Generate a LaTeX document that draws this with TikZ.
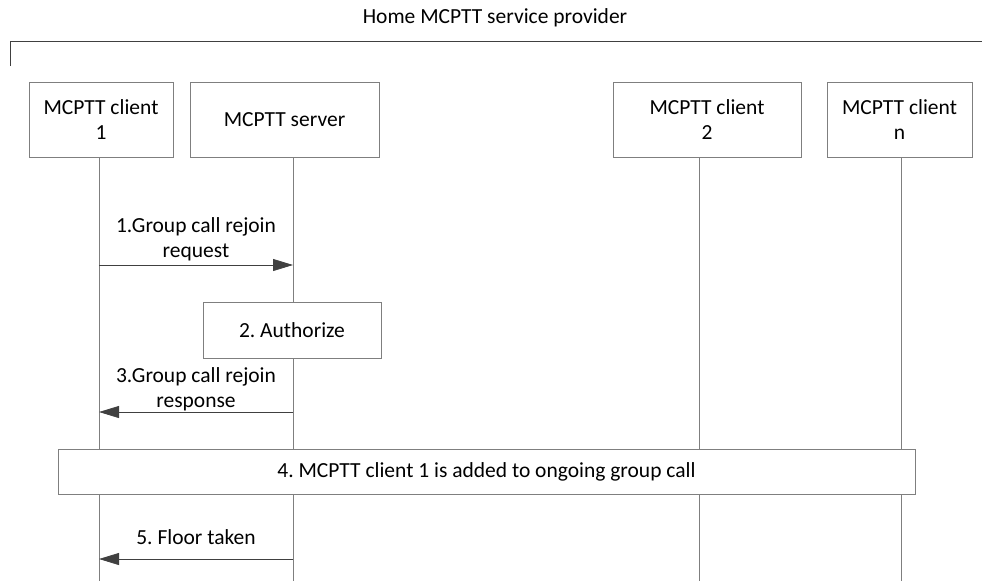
\documentclass[tikz,border=0pt]{standalone}
\usepackage{fontspec}
\setmainfont{Carlito}
\usepackage{xcolor}
\usepackage{tikz}
\usetikzlibrary{positioning,arrows.meta}
\definecolor{lineGray}{HTML}{7F7F7F}
\definecolor{arrowGray}{HTML}{404040}
\frenchspacing

\begin{document}
\begin{tikzpicture}[x=1pt,y=-1pt,
    font=\fontsize{21.5}{25}\selectfont,
    entity/.style={draw=lineGray,fill=white,line width=1pt,align=center,minimum height=75pt,inner sep=0pt},
    lifeline/.style={lineGray,line width=1pt},
    msg/.style={arrowGray,line width=0.8pt,-{Triangle[length=20pt,width=12pt]}},
    msglabel/.style={align=center,text=black}]
  \useasboundingbox (0,0) rectangle (982,581);
  \node (home) at (495,18) {Home MCPTT service provider};
  \draw[arrowGray,line width=1pt] (10,66) -- (10,41.5) -- (982,41.5);

  \node[entity,minimum width=144pt] (c1) at (101,119.5) {MCPTT client\\1};
  \node[entity,minimum width=189pt] (srv) at (284.5,119.5) {MCPTT server};
  \node[entity,minimum width=188pt] (c2) at (707,119.5) {MCPTT client\\2};
  \node[entity,minimum width=145pt] (cn) at (899.5,119.5) {MCPTT client\\n};

  % lifelines
  \coordinate (l1) at ([xshift=-2pt]c1.south);
  \coordinate (ls) at ([xshift=8.5pt]srv.south);
  \coordinate (l2) at ([xshift=-8pt]c2.south);
  \coordinate (ln) at ([xshift=1.5pt]cn.south);
  \coordinate (bottom) at (0,581);
  \foreach \l in {l1,ls,l2,ln}{
    \draw[lifeline] (\l) -- (\l |- bottom);
  }

  \coordinate (m1) at (0,265);
  \draw[msg] (l1 |- m1) -- node[msglabel,above=0pt] {1.Group call rejoin\\request} (ls |- m1);

  \node[entity,minimum width=178pt,minimum height=56pt] (auth) at (292,330) {2. Authorize};

  \coordinate (m3) at (0,412);
  \draw[msg] (ls |- m3) -- node[msglabel,above=-3pt] {3.Group call rejoin\\response} (l1 |- m3);

  \node[entity,minimum width=857pt,minimum height=45pt] (join) at (486.5,471.5) {4. MCPTT client 1 is added to ongoing group call};

  \coordinate (m5) at (0,559);
  \draw[msg] (ls |- m5) -- node[msglabel,above=11pt] {5. Floor taken} (l1 |- m5);
\end{tikzpicture}
\end{document}
